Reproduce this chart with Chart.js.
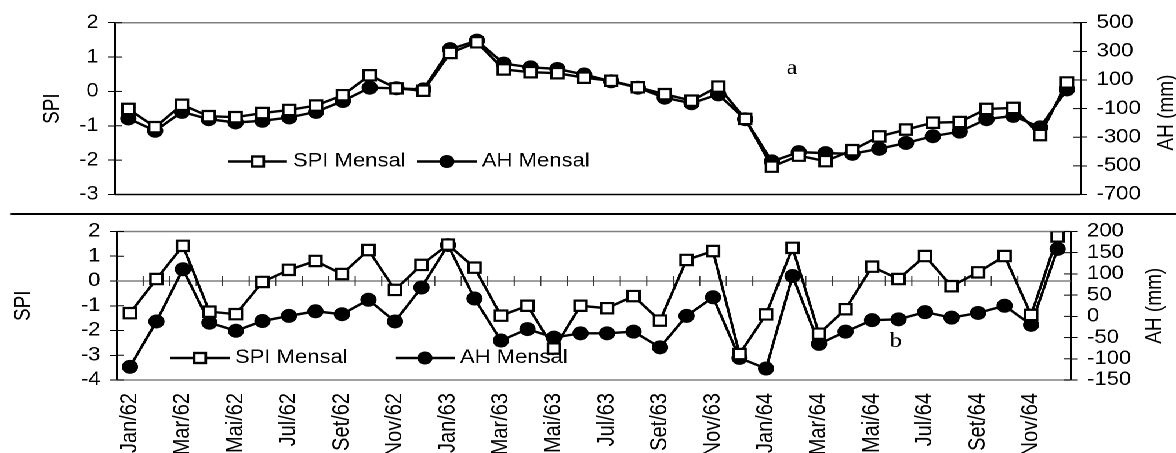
<!DOCTYPE html>
<html>
<head>
<meta charset="utf-8">
<script src="https://cdn.jsdelivr.net/npm/chart.js@4.4.1/dist/chart.umd.min.js"></script>
<style>
  html, body { margin: 0; padding: 0; background: #fff; overflow: hidden; width: 1176px; height: 453px; }
  /* the source figure is stretched sideways, so the whole drawing is scaled in x */
  #wrap { position: absolute; left: 0; top: 0; width: 1014px; height: 480px; transform: scaleX(1.1598); transform-origin: 0 0; }
  .box { position: absolute; left: 0; width: 1014px; max-width: 1014px; }
  #boxA { top: 0; height: 212px; }
  #boxB { top: 214px; height: 266px; }
  #sep { position: absolute; left: 8.6px; top: 213px; width: 1006px; height: 2px; background: #000; }
</style>
</head>
<body>
<div id="wrap">
  <div class="box" id="boxA"><canvas id="chartA"></canvas></div>
  <div id="sep"></div>
  <div class="box" id="boxB"><canvas id="chartB"></canvas></div>
</div>
<script>
const labels = [
  'Jan/62','Fev/62','Mar/62','Abr/62','Mai/62','Jun/62','Jul/62','Ago/62','Set/62','Out/62','Nov/62','Dez/62',
  'Jan/63','Fev/63','Mar/63','Abr/63','Mai/63','Jun/63','Jul/63','Ago/63','Set/63','Out/63','Nov/63','Dez/63',
  'Jan/64','Fev/64','Mar/64','Abr/64','Mai/64','Jun/64','Jul/64','Ago/64','Set/64','Out/64','Nov/64','Dez/64'
];

// panel a
const spiA = [-0.51, -1.04, -0.39, -0.72, -0.75, -0.63, -0.54, -0.41, -0.11, 0.47, 0.09, 0.02,
              1.12, 1.43, 0.64, 0.56, 0.53, 0.40, 0.31, 0.12, -0.08, -0.27, 0.14, -0.80,
              -2.19, -1.87, -2.03, -1.71, -1.31, -1.11, -0.91, -0.89, -0.51, -0.48, -1.27, 0.26];
const ahA = [-169, -255, -123, -174, -197, -185, -162, -123, -47, 46, 42, 34,
             315, 375, 214, 188, 177, 138, 91, 46, -24, -63, -1, -174,
             -469, -404, -411, -416, -381, -340, -293, -261, -174, -151, -231, 34];

// panel b
const spiB = [-1.30, 0.08, 1.42, -1.24, -1.34, -0.04, 0.45, 0.81, 0.28, 1.25, -0.36, 0.65,
              1.47, 0.54, -1.40, -1.00, -2.73, -1.00, -1.10, -0.61, -1.60, 0.85, 1.21, -2.95,
              -1.35, 1.34, -2.13, -1.14, 0.58, 0.08, 1.01, -0.21, 0.35, 1.01, -1.37, 1.80];
const ahB = [-119, -12, 111, -15, -34, -11, 1, 12, 5, 39, -12, 68,
             168, 42, -57, -30, -50, -40, -40, -36, -73, 1, 45, -98,
             -123, 95, -65, -36, -9, -7, 10, -3, 8, 25, -20, 159];

const SANS = "'Liberation Sans', Arial, sans-serif";
const SERIF = "'Liberation Serif', 'Times New Roman', serif";

function hline(ctx, x0, x1, y) {
  ctx.beginPath(); ctx.moveTo(x0, y); ctx.lineTo(x1, y); ctx.stroke();
}

function vtext(ctx, txt, x, y) {
  ctx.save();
  ctx.translate(x, y);
  ctx.rotate(-Math.PI / 2);
  ctx.textAlign = 'center';
  ctx.textBaseline = 'middle';
  ctx.fillText(txt, 0, 0);
  ctx.restore();
}

function legendItem(ctx, kind, x0, x1, mx, tx, y, text) {
  ctx.strokeStyle = '#000';
  ctx.lineWidth = 2.4;
  hline(ctx, x0, x1, y);
  if (kind === 'rect') {
    ctx.fillStyle = '#fff';
    ctx.fillRect(mx - 5, y - 5, 10, 10);
    ctx.strokeRect(mx - 5, y - 5, 10, 10);
  } else {
    ctx.fillStyle = '#000';
    ctx.beginPath(); ctx.arc(mx, y, 6.5, 0, Math.PI * 2); ctx.fill();
  }
  ctx.fillStyle = '#000';
  ctx.font = '19px ' + SANS;
  ctx.textAlign = 'left';
  ctx.textBaseline = 'middle';
  ctx.fillText(text, tx, y);
}

const panelDecor = {
  id: 'panelDecor',
  beforeDatasetsDraw(chart, args, o) {
    const { ctx, chartArea: a, scales } = chart;
    ctx.save();
    ctx.lineWidth = 1.5;
    ctx.strokeStyle = o.topColor;
    hline(ctx, a.left, a.right, a.top);
    ctx.strokeStyle = o.bottomColor;
    hline(ctx, a.left, a.right, a.bottom);

    // inner half of the tick marks that cross both value axes
    ctx.strokeStyle = '#000';
    ctx.lineWidth = 1;
    [['y', 1], ['y2', -1]].forEach(([id, dir]) => {
      const s = scales[id];
      const x0 = dir > 0 ? a.left : a.right;
      s.ticks.forEach(t => hline(ctx, x0, x0 + dir * 6, s.getPixelForValue(t.value)));
    });

    if (o.zeroLine) {
      const y0 = scales.y.getPixelForValue(0);
      ctx.strokeStyle = '#808080';
      ctx.lineWidth = 1.5;
      hline(ctx, a.left, a.right, y0);
      const x = scales.x;
      const half = (x.getPixelForValue(1) - x.getPixelForValue(0)) / 2;
      ctx.strokeStyle = '#333';
      ctx.lineWidth = 1;
      for (let i = 1; i < labels.length; i++) {
        const px = x.getPixelForValue(i) - half;
        ctx.beginPath(); ctx.moveTo(px, y0 - 5); ctx.lineTo(px, y0 + 5); ctx.stroke();
      }
    }
    ctx.restore();
  },
  afterDatasetsDraw(chart, args, o) {
    const { ctx, chartArea: a } = chart;
    ctx.save();
    const ly = a.bottom - o.legendUp;
    const L = o.legend;
    legendItem(ctx, 'rect', a.left + L[0], a.left + L[1], a.left + L[2], a.left + L[3], ly, 'SPI Mensal');
    legendItem(ctx, 'circle', a.left + L[4], a.left + L[5], a.left + L[6], a.left + L[7], ly, 'AH Mensal');

    ctx.fillStyle = '#000';
    ctx.font = '19px ' + SANS;
    const mid = (a.top + a.bottom) / 2;
    vtext(ctx, 'SPI', o.leftTitleX, mid);
    vtext(ctx, 'AH (mm)', o.rightTitleX, mid + o.rightTitleDy);

    ctx.font = '21px ' + SERIF;
    ctx.textAlign = 'center';
    ctx.textBaseline = 'middle';
    ctx.fillText(o.letter, a.left + o.letterX, a.bottom - o.letterUp);
    ctx.restore();
  }
};

function valueAxis(position, min, max, step, width, pad) {
  return {
    position: position,
    min: min,
    max: max,
    afterFit: s => { s.width = width; },
    border: { display: true, color: '#000', width: 1.5 },
    grid: { display: true, drawOnChartArea: false, drawTicks: true, tickLength: 6, color: '#000', lineWidth: 1 },
    ticks: { stepSize: step, autoSkip: false, padding: pad, color: '#000', font: { family: SANS, size: 19, lineHeight: 1 } }
  };
}

function makeChart(id, spi, ah, cfg) {
  return new Chart(document.getElementById(id), {
    type: 'line',
    data: {
      labels: labels,
      datasets: [
        {
          label: 'SPI Mensal', data: spi, yAxisID: 'y',
          borderColor: '#000', borderWidth: 2.4, tension: 0,
          pointStyle: 'rect', pointRadius: 7.3, pointHoverRadius: 7.3,
          pointBackgroundColor: '#fff', pointBorderColor: '#000', pointBorderWidth: 2.2
        },
        {
          label: 'AH Mensal', data: ah, yAxisID: 'y2',
          borderColor: '#000', borderWidth: 2.4, tension: 0,
          pointStyle: 'circle', pointRadius: 6.5, pointHoverRadius: 6.5,
          pointBackgroundColor: '#000', pointBorderColor: '#000', pointBorderWidth: 1
        }
      ]
    },
    options: {
      responsive: true,
      maintainAspectRatio: false,
      animation: false,
      devicePixelRatio: 2,
      layout: { padding: { top: cfg.padTop, bottom: cfg.padBottom, left: 0, right: 0 } },
      scales: {
        x: cfg.xAxis,
        y: valueAxis('left', cfg.spiMin, cfg.spiMax, 1, cfg.leftW, 8),
        y2: valueAxis('right', cfg.ahMin, cfg.ahMax, cfg.ahStep, cfg.rightW, 8)
      },
      plugins: {
        legend: { display: false },
        tooltip: { enabled: false },
        panelDecor: cfg.decor
      }
    },
    plugins: [panelDecor]
  });
}

makeChart('chartA', spiA, ahA, {
  padTop: 22.7, padBottom: 16,
  spiMin: -3, spiMax: 2, ahMin: -700, ahMax: 500, ahStep: 200,
  leftW: 99.1, rightW: 82.5,
  xAxis: { display: false, offset: true },
  decor: {
    topColor: '#808080', bottomColor: '#000', zeroLine: false,
    legendUp: 33, legend: [97.5, 148.3, 123.3, 153.5, 260.4, 312.1, 286.2, 316.4],
    leftTitleX: 45.3, rightTitleX: 1006.5, rightTitleDy: 4,
    letter: 'a', letterX: 583.7, letterUp: 126
  }
});

makeChart('chartB', spiB, ahB, {
  padTop: 15, padBottom: 0,
  spiMin: -4, spiMax: 2, ahMin: -150, ahMax: 200, ahStep: 50,
  leftW: 100.6, rightW: 90.7,
  xAxis: {
    offset: true,
    afterFit: s => { s.height = 100; },
    border: { display: false },
    grid: { display: false, drawTicks: false },
    ticks: {
      autoSkip: false, minRotation: 90, maxRotation: 90, padding: 13,
      color: '#000', font: { family: SANS, size: 20 },
      callback: (v, i) => (i % 2 === 0 ? labels[i] : '')
    }
  },
  decor: {
    topColor: '#808080', bottomColor: '#808080', zeroLine: true,
    legendUp: 22, legend: [46, 97.7, 71.8, 102, 240.8, 291.6, 265.8, 296],
    leftTitleX: 20.1, rightTitleX: 995.7, rightTitleDy: 0,
    letter: 'b', letterX: 671.8, letterUp: 38.3
  }
});
</script>
</body>
</html>
